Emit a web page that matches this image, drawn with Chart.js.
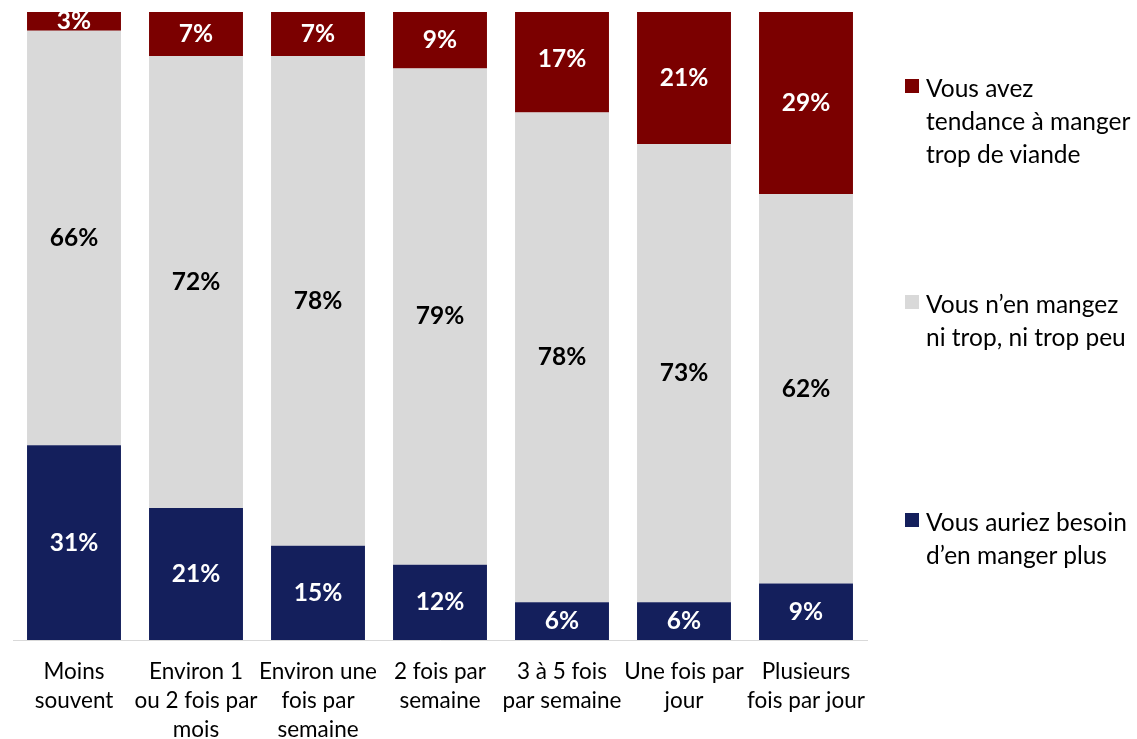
<!DOCTYPE html>
<html>
<head>
<meta charset="utf-8">
<script src="https://cdn.jsdelivr.net/npm/chart.js@4"></script>
<style>
  html, body { margin: 0; padding: 0; background: #fff; }
  #wrap { position: relative; width: 1137px; height: 739px; }
  #legend { position: absolute; left: 905px; top: 0; font-family: Lato, sans-serif; font-size: 24.5px; color: #000; }
  .item { position: absolute; left: 0; width: 232px; line-height: 33px; }
  .box { position: absolute; left: 0; top: 8px; width: 14px; height: 14px; }
  .txt { padding-left: 21px; white-space: nowrap; }
</style>
</head>
<body>
<div id="wrap">
  <canvas id="chart" width="1137" height="739"></canvas>
  <div id="legend"></div>
</div>
<script>
const categories = [
  ['Moins', 'souvent'],
  ['Environ 1', 'ou 2 fois par', 'mois'],
  ['Environ une', 'fois par', 'semaine'],
  ['2 fois par', 'semaine'],
  ['3 à 5 fois', 'par semaine'],
  ['Une fois par', 'jour'],
  ['Plusieurs', 'fois par jour']
];

const plusValues = [31, 21, 15, 12, 6, 6, 9];
const neutralValues = [66, 72, 78, 79, 78, 73, 62];
const tropValues = [3, 7, 7, 9, 17, 21, 29];

const seriesNames = [
  ['Vous auriez besoin', 'd\u2019en manger plus'],
  ['Vous n\u2019en mangez', 'ni trop, ni trop peu'],
  ['Vous avez', 'tendance à manger', 'trop de viande']
];

const colors = ['#141f5c', '#d9d9d9', '#7b0000'];
const labelColors = ['#ffffff', '#000000', '#ffffff'];

// draws the value in the middle of each segment
const valueLabels = {
  id: 'valueLabels',
  afterDatasetsDraw(chart) {
    const ctx = chart.ctx;
    ctx.save();
    ctx.font = 'bold 24.5px Lato, sans-serif';
    ctx.textAlign = 'center';
    ctx.textBaseline = 'middle';
    chart.data.datasets.forEach((ds, i) => {
      const meta = chart.getDatasetMeta(i);
      ctx.fillStyle = labelColors[i];
      meta.data.forEach((bar, j) => {
        const y = (bar.y + bar.base) / 2;
        ctx.fillText(ds.data[j] + '%', bar.x, y);
      });
    });
    ctx.restore();
  }
};

new Chart(document.getElementById('chart'), {
  type: 'bar',
  data: {
    labels: categories,
    datasets: [
      { label: seriesNames[0].join(' '), data: plusValues, backgroundColor: colors[0] },
      { label: seriesNames[1].join(' '), data: neutralValues, backgroundColor: colors[1] },
      { label: seriesNames[2].join(' '), data: tropValues, backgroundColor: colors[2] }
    ]
  },
  options: {
    responsive: false,
    animation: false,
    layout: { padding: { left: 13, right: 270, top: 12, bottom: 0 } },
    datasets: { bar: { categoryPercentage: 1, barPercentage: 0.77 } },
    plugins: { legend: { display: false }, tooltip: { enabled: false } },
    scales: {
      x: {
        stacked: true,
        grid: { display: false, drawTicks: false },
        border: { display: true, color: '#d9d9d9', width: 1 },
        ticks: {
          color: '#000',
          padding: 17,
          maxRotation: 0,
          autoSkip: false,
          font: { family: 'Lato, sans-serif', size: 22.5, lineHeight: 1.29 }
        },
        afterFit(scale) { scale.height = 99; }
      },
      y: {
        stacked: true,
        display: false,
        min: 0,
        max: 100
      }
    }
  },
  plugins: [valueLabels]
});

// legend on the right, top item first
const legendTops = [505, 287, 71];
const legend = document.getElementById('legend');
[2, 1, 0].forEach(i => {
  const item = document.createElement('div');
  item.className = 'item';
  item.style.top = legendTops[i] + 'px';
  item.innerHTML = '<div class="box" style="background:' + colors[i] + '"></div>' +
    '<div class="txt">' + seriesNames[i].join('<br>') + '</div>';
  legend.appendChild(item);
});
</script>
</body>
</html>
